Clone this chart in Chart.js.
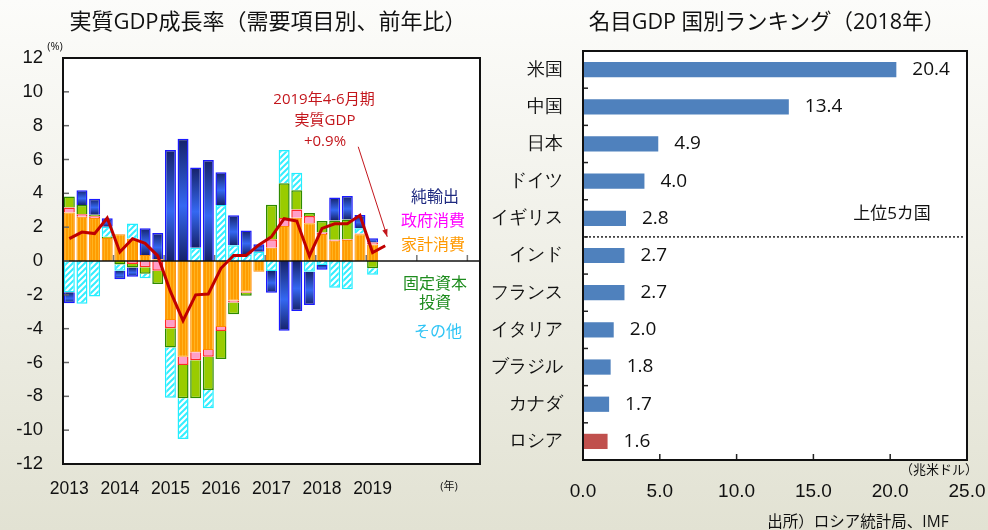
<!DOCTYPE html>
<html>
<head>
<meta charset="utf-8">
<script src="https://cdn.jsdelivr.net/npm/chart.js@4"></script>
<style>
  body { margin: 0; width: 988px; height: 530px; overflow: hidden; position: relative;
    background: linear-gradient(#fcfcfa, #e2e2d3);
    font-family: 'Open Sans', 'Noto Sans CJK JP', sans-serif; color: #111; }
  canvas { position: absolute; top: 0; }
  .t { position: absolute; white-space: nowrap; transform: translate(-50%, -50%); line-height: 1; }
</style>
</head>
<body>
<canvas id="gdpChart" width="485" height="530" style="left:0"></canvas>
<canvas id="rankChart" width="503" height="530" style="left:485px"></canvas>

<div class="t" style="left:268px;top:20px;font-size:22px">実質GDP成長率（需要項目別、前年比）</div>
<div class="t" style="left:767px;top:21px;font-size:21.5px">名目GDP 国別ランキング（2018年）</div>

<div class="t" style="left:55px;top:45px;font-size:11px">(%)</div>
<div class="t" style="left:449px;top:485px;font-size:11px">(年)</div>

<div class="t" style="left:324px;top:98px;font-size:15px;color:#c3161c">2019年4-6月期</div>
<div class="t" style="left:325px;top:119px;font-size:15px;color:#c3161c">実質GDP</div>
<div class="t" style="left:325px;top:140px;font-size:15px;color:#c3161c">+0.9%</div>

<div class="t" style="left:435px;top:196px;font-size:16px;color:#1f2a80">純輸出</div>
<div class="t" style="left:433px;top:220px;font-size:16px;color:#ff00ff">政府消費</div>
<div class="t" style="left:433px;top:244px;font-size:16px;color:#ff9900">家計消費</div>
<div class="t" style="left:435px;top:283px;font-size:16px;color:#1e8c1e">固定資本</div>
<div class="t" style="left:435px;top:302px;font-size:16px;color:#1e8c1e">投資</div>
<div class="t" style="left:438px;top:331px;font-size:16px;color:#2ec4f5">その他</div>

<div class="t" style="left:892px;top:212px;font-size:17px">上位5カ国</div>
<div class="t" style="left:939px;top:469px;font-size:13px">（兆米ドル）</div>
<div class="t" style="left:858px;top:522px;font-size:15.5px">出所）ロシア統計局、IMF</div>

<script>
// quarters 2013Q1 .. 2019Q1 for bars, line runs to 2019Q2
const years = ['2013', '2014', '2015', '2016', '2017', '2018', '2019', '2020', '2021']
const yearTicks = ['2013', '2014', '2015', '2016', '2017', '2018', '2019']

const household = [2.86, 2.62, 2.54, 1.36, 1.58, 1.32, 0.35, 0.1, -3.49, -5.66, -5.4, -5.26, -3.9, -2.34, -1.81, -0.63, 0.79, 2.07, 2.56, 2.23, 1.6, 1.2, 1.24, 1.58, 0.97]
const government = [0.3, 0.14, 0.1, 0, 0, -0.18, -0.37, -0.57, -0.49, -0.49, -0.47, -0.4, -0.24, -0.12, -0.06, 0, 0.49, 0.47, 0.49, 0.43, 0.08, 0.05, 0.05, 0.05, 0.12]
const investment = [0.65, 0.55, 0.1, 0.08, -0.2, -0.21, -0.38, -0.79, -1.14, -1.97, -2.25, -1.97, -1.65, -0.69, -0.18, 0, 2.05, 2.05, 1.13, 0.18, 0.68, 1.15, 1.17, 0, -0.43]
const other = [-1.85, -2.52, -2.1, 0.59, -0.37, 0.89, -0.27, 0, -2.96, -2.4, 0.79, -1.08, 3.31, 0.93, 0.39, 0.55, -0.59, 1.97, 1.04, -0.63, -0.24, -1.58, -1.67, 0.3, -0.38]
const netExports = [-0.65, 0.87, 0.94, 0.49, -0.51, -0.54, 1.58, 1.55, 6.56, 7.23, 4.73, 5.97, 1.93, 1.77, 1.42, 0.44, -1.28, -4.12, -2.96, -1.97, -0.27, 1.35, 1.38, 0.79, 0.25]
const realGdp = [1.32, 1.71, 1.62, 2.54, 0.53, 1.32, 1.04, 0.3, -1.8, -3.53, -2.0, -1.95, -0.43, 0.33, 0.33, 0.95, 1.44, 2.5, 2.36, 0.3, 1.93, 2.2, 2.2, 2.7, 0.5, 0.9]

const countries = ['米国', '中国', '日本', 'ドイツ', 'イギリス', 'インド', 'フランス', 'イタリア', 'ブラジル', 'カナダ', 'ロシア']
const gdp2018 = [20.4, 13.4, 4.9, 4.0, 2.8, 2.7, 2.7, 2.0, 1.8, 1.7, 1.6]
const highlight = 'ロシア'

let quarterLabels = []
years.forEach(y => ['Q1', 'Q2', 'Q3', 'Q4'].forEach(q => quarterLabels.push(y + q)))
quarterLabels = quarterLabels.slice(0, 33)

function makeStripes() {
  const c = document.createElement('canvas')
  c.width = 3; c.height = 1
  const x = c.getContext('2d')
  x.fillStyle = '#ff9c00'; x.fillRect(0, 0, 3, 1)
  x.fillStyle = '#ffb422'; x.fillRect(2, 0, 1, 1)
  return x.createPattern(c, 'repeat')
}

function makeHatch() {
  const c = document.createElement('canvas')
  c.width = 6; c.height = 6
  const x = c.getContext('2d')
  x.fillStyle = '#fff'; x.fillRect(0, 0, 6, 6)
  x.strokeStyle = '#33eeff'; x.lineWidth = 2
  x.beginPath()
  x.moveTo(0, 6); x.lineTo(6, 0)
  x.moveTo(-3, 3); x.lineTo(3, -3)
  x.moveTo(3, 9); x.lineTo(9, 3)
  x.stroke()
  return x.createPattern(c, 'repeat')
}

// vertical dark-bright-dark gradient per net export bar
function blueFill(ctx) {
  const chart = ctx.chart
  const y = chart.scales.y
  if (ctx.type !== 'data' || !chart.chartArea || !y) return '#2850d0'
  const i = ctx.dataIndex
  const v = netExports[i]
  let start = 0;
  [household, government, investment, other].forEach(a => {
    if (a[i] !== 0 && (a[i] > 0) === (v > 0)) start += a[i]
  })
  const p1 = y.getPixelForValue(start), p2 = y.getPixelForValue(start + v)
  const g = chart.ctx.createLinearGradient(0, Math.min(p1, p2), 0, Math.max(p1, p2))
  g.addColorStop(0, '#16226a')
  g.addColorStop(0.55, '#3468f2')
  g.addColorStop(1, '#16226a')
  return g
}

// keep the plot box where it is, labels may hang over the edge
function noSidePad(s) {
  s.paddingLeft = 0
  s.paddingRight = 0
}

const gdpDecor = {
  id: 'gdpDecor',
  beforeDraw(chart) {
    const a = chart.chartArea, c = chart.ctx
    c.save()
    c.fillStyle = '#fff'
    c.fillRect(a.left, a.top, a.right - a.left, a.bottom - a.top)
    c.restore()
  },
  beforeDatasetDraw(chart, args) {
    if (args.index !== 5) return
    const a = chart.chartArea, c = chart.ctx
    const x = chart.scales.x, y = chart.scales.y
    const y0 = y.getPixelForValue(0)
    c.save()
    c.strokeStyle = '#777'
    c.lineWidth = 1.5
    for (let k = 4; k < quarterLabels.length; k += 4) {
      const px = (x.getPixelForValue(k - 1) + x.getPixelForValue(k)) / 2
      c.beginPath(); c.moveTo(px, y0); c.lineTo(px, y0 - 6); c.stroke()
    }
    c.strokeStyle = '#111'
    c.lineWidth = 1.5
    c.beginPath(); c.moveTo(a.left, y0); c.lineTo(a.right, y0); c.stroke()
    c.restore()
  },
  afterDraw(chart) {
    const a = chart.chartArea, c = chart.ctx
    const y = chart.scales.y
    c.save()
    c.strokeStyle = '#666'
    c.lineWidth = 1.5
    for (let v = -10; v <= 10; v += 2) {
      const py = y.getPixelForValue(v)
      c.beginPath(); c.moveTo(a.left, py); c.lineTo(a.left + 6, py); c.stroke()
    }
    c.strokeStyle = '#111'
    c.lineWidth = 2
    c.strokeRect(a.left, a.top, a.right - a.left, a.bottom - a.top)

    // arrow pointing at the last GDP point
    const meta = chart.getDatasetMeta(5)
    const last = meta.data[realGdp.length - 1]
    const tx = last.x + 2, ty = last.y - 9
    const sx = last.x - 27, sy = last.y - 99
    c.strokeStyle = '#c3161c'
    c.fillStyle = '#c3161c'
    c.lineWidth = 1
    c.beginPath(); c.moveTo(sx, sy); c.lineTo(tx, ty); c.stroke()
    const ang = Math.atan2(ty - sy, tx - sx)
    c.beginPath()
    c.moveTo(tx, ty)
    c.lineTo(tx - 8 * Math.cos(ang - 0.35), ty - 8 * Math.sin(ang - 0.35))
    c.lineTo(tx - 8 * Math.cos(ang + 0.35), ty - 8 * Math.sin(ang + 0.35))
    c.closePath(); c.fill()
    c.restore()
  }
}

const barStyle = { order: 1, stack: 'parts', barPercentage: 1, categoryPercentage: 0.87 }

new Chart(document.getElementById('gdpChart'), {
  type: 'bar',
  data: {
    labels: quarterLabels,
    datasets: [
      { ...barStyle, label: '家計消費', data: household, backgroundColor: makeStripes(), borderColor: '#ff8a00', borderWidth: 1 },
      { ...barStyle, label: '政府消費', data: government, backgroundColor: '#ff9ec8', borderColor: '#ff2a2a', borderWidth: 1.5 },
      { ...barStyle, label: '固定資本投資', data: investment, backgroundColor: '#99cc00', borderColor: '#2e8b00', borderWidth: 1.5 },
      { ...barStyle, label: 'その他', data: other, backgroundColor: makeHatch(), borderColor: '#22eeff', borderWidth: 1.5 },
      { ...barStyle, label: '純輸出', data: netExports, backgroundColor: blueFill, borderColor: '#1a1aff', borderWidth: 1.5 },
      {
        type: 'line', label: '実質GDP', data: realGdp, order: 0, stack: 'gdp',
        borderColor: '#c00000', borderWidth: 3, pointRadius: 0, tension: 0, fill: false
      }
    ]
  },
  options: {
    responsive: false,
    animation: false,
    layout: { padding: { top: 58, right: 5 } },
    plugins: { legend: { display: false }, tooltip: { enabled: false } },
    scales: {
      x: {
        stacked: true,
        grid: { display: false, drawTicks: false },
        border: { display: false },
        ticks: {
          autoSkip: false, maxRotation: 0, padding: 15, color: '#111', font: { size: 17.5 },
          callback: (v, i) => (i % 4 === 0 && i / 4 < yearTicks.length) ? yearTicks[i / 4] : ''
        },
        afterFit: s => { s.height = 66; noSidePad(s) }
      },
      y: {
        stacked: true, min: -12, max: 12,
        grid: { display: false, drawTicks: false },
        border: { display: false },
        ticks: { stepSize: 2, padding: 20, color: '#111', font: { size: 18.5 } },
        afterFit: s => { s.width = 63 }
      }
    }
  },
  plugins: [gdpDecor]
});

const rankDecor = {
  id: 'rankDecor',
  beforeDraw(chart) {
    const a = chart.chartArea, c = chart.ctx
    c.save()
    c.fillStyle = '#fff'
    c.fillRect(a.left, a.top, a.right - a.left, a.bottom - a.top)
    c.restore()
  },
  afterDatasetsDraw(chart) {
    const a = chart.chartArea, c = chart.ctx
    const x = chart.scales.x, y = chart.scales.y
    c.save()
    // value labels
    c.fillStyle = '#111'
    c.font = "19px 'Open Sans', 'Noto Sans CJK JP', sans-serif"
    c.textBaseline = 'middle'
    chart.getDatasetMeta(0).data.forEach((el, i) => {
      c.fillText(gdp2018[i].toFixed(1), el.x + 16, el.y)
    })
    // ticks pointing inward
    c.strokeStyle = '#222'
    c.lineWidth = 1.5
    for (let v = 5; v < 25; v += 5) {
      const px = x.getPixelForValue(v)
      c.beginPath(); c.moveTo(px, a.bottom); c.lineTo(px, a.bottom - 6); c.stroke()
    }
    for (let i = 1; i < countries.length; i++) {
      const py = (y.getPixelForValue(i - 1) + y.getPixelForValue(i)) / 2
      c.beginPath(); c.moveTo(a.left, py); c.lineTo(a.left + 5, py); c.stroke()
    }
    // top 5 divider
    const dy = (y.getPixelForValue(4) + y.getPixelForValue(5)) / 2
    c.setLineDash([2, 2])
    c.lineWidth = 1.5
    c.beginPath(); c.moveTo(a.left + 2, dy); c.lineTo(a.right - 2, dy); c.stroke()
    c.setLineDash([])
    c.strokeStyle = '#111'
    c.lineWidth = 2
    c.strokeRect(a.left, a.top, a.right - a.left, a.bottom - a.top)
    c.restore()
  }
}

new Chart(document.getElementById('rankChart'), {
  type: 'bar',
  data: {
    labels: countries,
    datasets: [{
      label: '名目GDP',
      data: gdp2018,
      backgroundColor: countries.map(c => c === highlight ? '#c0504d' : '#4f81bd'),
      barPercentage: 0.41,
      categoryPercentage: 1
    }]
  },
  options: {
    indexAxis: 'y',
    responsive: false,
    animation: false,
    layout: { padding: { top: 51, right: 21 } },
    plugins: { legend: { display: false }, tooltip: { enabled: false } },
    scales: {
      x: {
        min: 0, max: 25,
        grid: { display: false, drawTicks: false },
        border: { display: false },
        ticks: { stepSize: 5, padding: 20, color: '#111', font: { size: 19 }, callback: v => v.toFixed(1) },
        afterFit: s => { s.height = 70; noSidePad(s) }
      },
      y: {
        grid: { display: false, drawTicks: false },
        border: { display: false },
        ticks: { padding: 20, color: '#111', font: { size: 18 } },
        afterFit: s => { s.width = 98 }
      }
    }
  },
  plugins: [rankDecor]
});
</script>
</body>
</html>
